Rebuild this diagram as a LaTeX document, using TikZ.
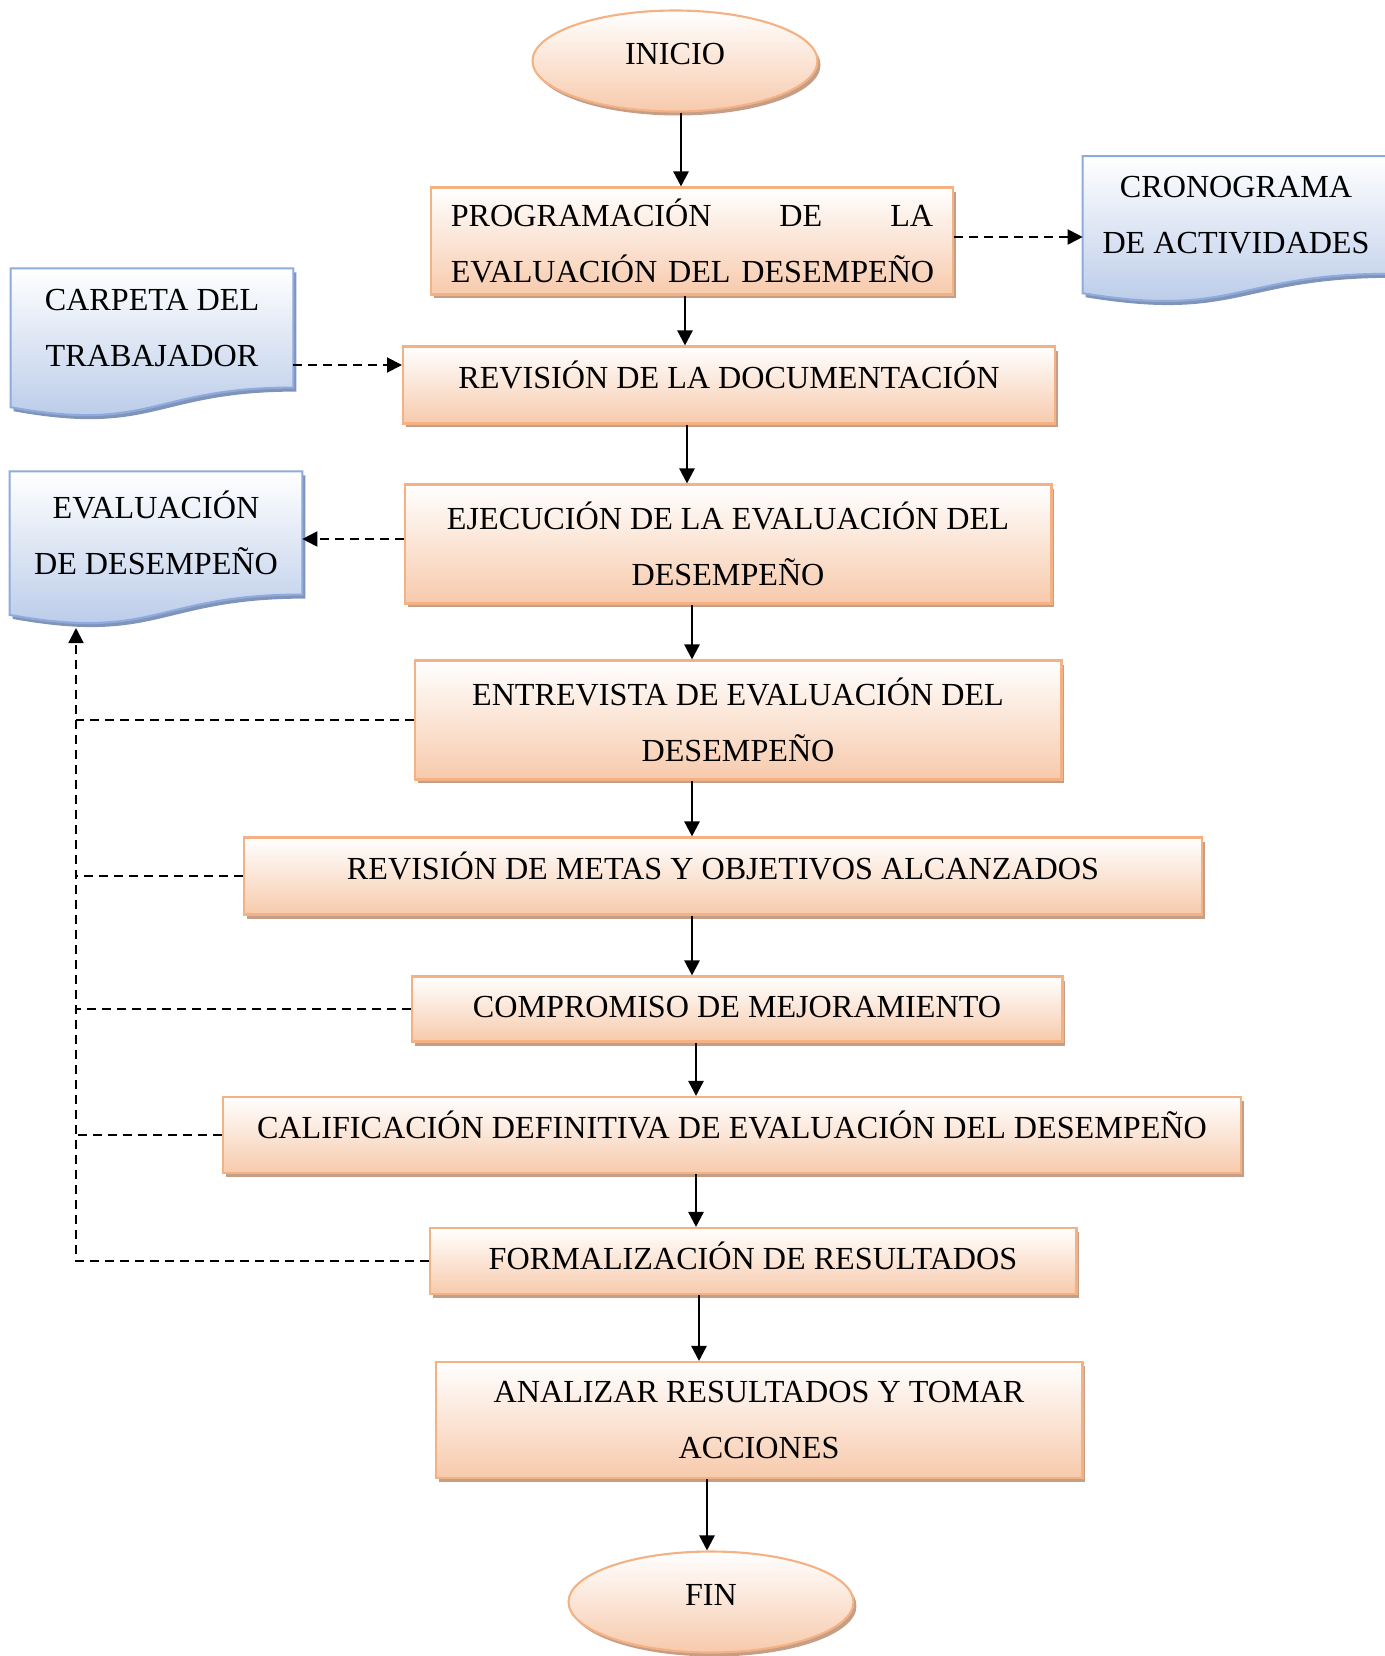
\documentclass[tikz,border=0pt]{standalone}
\usepackage{fontspec}
\setmainfont{Liberation Serif}
\usetikzlibrary{shapes.geometric, arrows.meta, shadows, calc, backgrounds}

\definecolor{boxline}{RGB}{244,177,131}
\definecolor{boxfill}{RGB}{247,202,172}
\definecolor{boxshade}{RGB}{196,158,134}
\definecolor{docline}{RGB}{143,170,220}
\definecolor{docfill}{RGB}{180,199,231}
\definecolor{docshade}{RGB}{128,148,186}

\tikzstyle{proc} = [rectangle, draw=boxline, line width=1.2pt, top color=white, bottom color=boxfill,
  drop shadow={shadow xshift=0.06cm, shadow yshift=-0.08cm, fill=boxshade, opacity=1},
  align=center, font=\fontsize{18.3}{31.5}\selectfont]
\tikzstyle{term} = [ellipse, draw=boxline, line width=1.2pt, top color=white, bottom color=boxfill,
  drop shadow={shadow xshift=0.06cm, shadow yshift=-0.08cm, fill=boxshade, opacity=1},
  inner sep=0pt, minimum width=5.7cm, minimum height=2.02cm, font=\fontsize{18.3}{31.5}\selectfont]
\tikzstyle{oneline} = [text height=0.42cm, text depth=0.28cm]
\tikzstyle{doc} = [rectangle, inner sep=0pt, align=center, font=\fontsize{18.3}{31.5}\selectfont]
\tikzstyle{docshape} = [draw=docline, line width=1.2pt, top color=white, bottom color=docfill,
  drop shadow={shadow xshift=0.06cm, shadow yshift=-0.08cm, fill=docshade, opacity=1}]
\tikzstyle{arrow} = [-{Triangle[length=0.3cm, width=0.3cm]}, line width=1.4pt]
\tikzstyle{dline} = [line width=1.1pt, dash pattern=on 0.18cm off 0.12cm]
\tikzstyle{darrow} = [dline, -{Triangle[length=0.3cm, width=0.3cm]}]

% outline of a document symbol drawn round a named node
\newcommand{\docpath}[1]{(#1.north west) -- (#1.north east) -- (#1.south east)
  .. controls (#1.south) and ($(#1.north)!1.381!(#1.south)$) .. ($(#1.north west)!1.165!(#1.south west)$) -- cycle}

\begin{document}
\begin{tikzpicture}[x=0.02cm, y=-0.02cm]
    \useasboundingbox (0,0) rectangle (1385,1656);

    \node (inicio) [term, oneline] at (675,61) {INICIO};
    \node (prog)   [proc, minimum width=10.44cm, minimum height=2.14cm, text width=9.65cm, align=left] at (692,241)
      {PROGRAMACIÓN\hfill DE\hfill LA\\\mbox{EVALUACIÓN DEL DESEMPEÑO}};
    \node (rev)    [proc, oneline, minimum width=13.04cm, minimum height=1.54cm] at (729,385)
      {REVISIÓN DE LA DOCUMENTACIÓN};
    \node (ejec)   [proc, minimum width=12.94cm, minimum height=2.38cm] at (728,544)
      {EJECUCIÓN DE LA EVALUACIÓN DEL\\DESEMPEÑO};
    \node (entr)   [proc, minimum width=12.94cm, minimum height=2.38cm] at (738,720)
      {ENTREVISTA DE EVALUACIÓN DEL\\DESEMPEÑO};
    \node (metas)  [proc, oneline, minimum width=19.18cm, minimum height=1.54cm] at (723,876)
      {REVISIÓN DE METAS Y OBJETIVOS ALCANZADOS};
    \node (comp)   [proc, oneline, text depth=0.07cm, minimum width=13.02cm, minimum height=1.30cm] at (737,1009)
      {COMPROMISO DE MEJORAMIENTO};
    \node (calif)  [proc, oneline, minimum width=20.38cm, minimum height=1.52cm] at (732,1135)
      {CALIFICACIÓN DEFINITIVA DE EVALUACIÓN DEL DESEMPEÑO};
    \node (formal) [proc, oneline, text depth=0.07cm, minimum width=12.94cm, minimum height=1.32cm] at (753,1261)
      {FORMALIZACIÓN DE RESULTADOS};
    \node (anal)   [proc, minimum width=12.94cm, minimum height=2.32cm] at (759,1420)
      {ANALIZAR RESULTADOS Y TOMAR\\ACCIONES};
    \node (fin)    [term, oneline] at (711,1602) {FIN};

    % documents
    \node (crono)   [doc, minimum width=6.12cm, minimum height=2.34cm] at (1236,215)
      {CRONOGRAMA\\DE ACTIVIDADES};
    \node (carpeta) [doc, minimum width=5.64cm, minimum height=2.37cm] at (152,328)
      {CARPETA DEL\\TRABAJADOR};
    \node (evald)   [doc, minimum width=5.84cm, minimum height=2.45cm] at (156,533)
      {EVALUACIÓN\\DE DESEMPEÑO};
    \coordinate (evalfoot) at (76,628);

    \begin{scope}[on background layer]
      \draw [docshape] \docpath{crono};
      \draw [docshape] \docpath{carpeta};
      \draw [docshape] \docpath{evald};
    \end{scope}

    \draw [arrow] (inicio.south -| 681,0) -- (prog.north -| 681,0);
    \draw [arrow] (prog.south -| 685,0)   -- (rev.north -| 685,0);
    \draw [arrow] (rev.south -| 687,0)    -- (ejec.north -| 687,0);
    \draw [arrow] (ejec.south -| 692,0)   -- (entr.north -| 692,0);
    \draw [arrow] (entr.south -| 692,0)   -- (metas.north -| 692,0);
    \draw [arrow] (metas.south -| 692,0)  -- (comp.north -| 692,0);
    \draw [arrow] (comp.south -| 696,0)   -- (calif.north -| 696,0);
    \draw [arrow] (calif.south -| 696,0)  -- (formal.north -| 696,0);
    \draw [arrow] (formal.south -| 699,0) -- (anal.north -| 699,0);
    \draw [arrow] (anal.south -| 707,0)   -- (fin.north -| 707,0);

    \draw [darrow] (prog.east |- 0,237)    -- (crono.west |- 0,237);
    \draw [darrow] (carpeta.east |- 0,365) -- (rev.west |- 0,365);
    \draw [darrow] (ejec.west |- 0,539)    -- (evald.east |- 0,539);

    \draw [dline]  (entr.west)  -- (entr.west -| evalfoot);
    \draw [dline]  (metas.west) -- (metas.west -| evalfoot);
    \draw [dline]  (comp.west)  -- (comp.west -| evalfoot);
    \draw [dline]  (calif.west) -- (calif.west -| evalfoot);
    \draw [darrow] (formal.west) -| (evalfoot);
\end{tikzpicture}
\end{document}
